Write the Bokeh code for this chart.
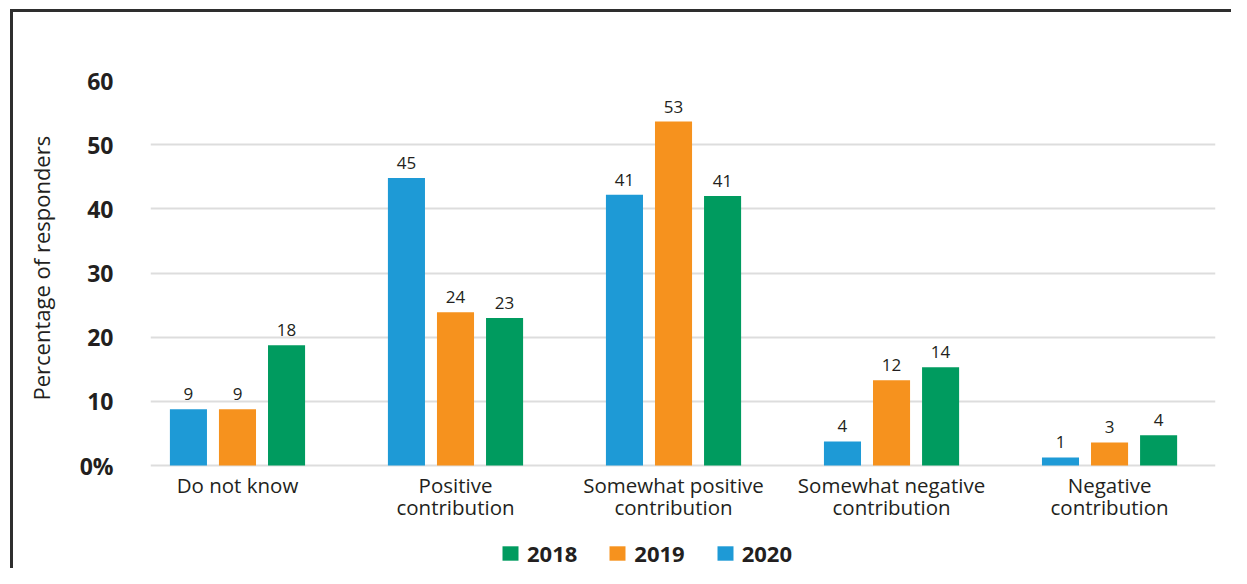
from bokeh.plotting import figure
from bokeh.models import ColumnDataSource, Range1d, FixedTicker, Legend, LegendItem, Title
from bokeh.transform import dodge
from bokeh.core.properties import value
from bokeh.embed import file_html
from bokeh.resources import INLINE

# ---- data ----
categories = ["Do not know", "Positive\ncontribution", "Somewhat positive\ncontribution",
              "Somewhat negative\ncontribution", "Negative\ncontribution"]
years = ["2018", "2019", "2020"]
v2020 = [8.75, 44.8, 42.2, 3.75, 1.25]
v2019 = [8.75, 23.9, 53.6, 13.3, 3.6]
v2018 = [18.75, 23.0, 42.0, 15.3, 4.7]
lab2020 = ["9", "45", "41", "4", "1"]
lab2019 = ["9", "24", "53", "12", "3"]
lab2018 = ["18", "23", "41", "14", "4"]
y_ticks = [0, 10, 20, 30, 40, 50, 60]
y_tick_labels = ["0%", "10", "20", "30", "40", "50", "60"]
y_title = "Percentage of responders"

colors = {"2018": "#009b5f", "2019": "#f6921e", "2020": "#1e9ad6"}
TXT = "#231f20"
FONT = "Open Sans"

idx = list(range(len(categories)))
src = ColumnDataSource(dict(x=idx, cat=categories, v2018=v2018, v2019=v2019, v2020=v2020,
                            l2018=lab2018, l2019=lab2019, l2020=lab2020))

# layout (pixels)
W, H = 1231, 568
LEFT, RIGHT, TOP = 150, 16, 80
ZERO_PX = 465                      # pixel row of the 0 line
px_per_unit = (ZERO_PX - TOP) / 60.0
y_start = -(H - ZERO_PX) / px_per_unit

p = figure(width=W, height=H, output_backend="svg", toolbar_location=None,
           x_range=Range1d(-0.399, 4.486), y_range=Range1d(y_start, 60),
           x_axis_location=None,
           min_border_left=LEFT, min_border_right=RIGHT, min_border_top=TOP, min_border_bottom=0)
p.outline_line_color = None
p.border_fill_color = None
p.styles = {
    "background": ("linear-gradient(#2e2e2e,#2e2e2e) 10px 9px / 1221px 3px no-repeat, "
                   "linear-gradient(#2e2e2e,#2e2e2e) 10px 9px / 3px 559px no-repeat")
}

offsets = {"2020": -0.225, "2019": 0.0, "2018": 0.225}
renderers = {}
for yr in ["2020", "2019", "2018"]:
    r = p.vbar(x=dodge("x", offsets[yr], range=p.x_range), top="v" + yr, bottom=0, width=0.17,
               source=src, fill_color=colors[yr], line_color=None)
    renderers[yr] = r
    p.text(x=dodge("x", offsets[yr], range=p.x_range), y="v" + yr, text="l" + yr, source=src,
           text_align="center", text_baseline="bottom", y_offset=-9,
           text_font=value(FONT), text_font_size="17px", text_color=TXT)

# category labels under the groups
p.text(x="x", y=0, text="cat", source=src, text_align="center", text_baseline="top",
       y_offset=5, text_line_height=0.82,
       text_font=value(FONT), text_font_size="20.5px", text_color=TXT)

# y axis
p.yaxis.ticker = FixedTicker(ticks=y_ticks)
p.yaxis.major_label_overrides = {t: l for t, l in zip(y_ticks, y_tick_labels)}
p.yaxis.major_label_text_font = FONT
p.yaxis.major_label_text_font_size = "23px"
p.yaxis.major_label_text_font_style = "bold"
p.yaxis.major_label_text_color = TXT
p.yaxis.major_label_standoff = 31
p.yaxis.axis_line_color = None
p.yaxis.major_tick_line_color = None
p.yaxis.minor_tick_line_color = None

# y axis title, placed along the 0-60 part of the axis
ytitle = Title(text=y_title, align="left", vertical_align="middle", offset=168, standoff=40,
               text_font=FONT, text_font_size="22px", text_font_style="normal", text_color=TXT)
p.add_layout(ytitle, "left")

p.xgrid.grid_line_color = None
p.ygrid.ticker = FixedTicker(ticks=y_ticks)
p.ygrid.grid_line_color = "#dddddd"
p.ygrid.grid_line_width = 2

legend = Legend(items=[LegendItem(label=yr, renderers=[renderers[yr]]) for yr in years],
                orientation="horizontal", location=(350, 0),
                glyph_width=20, glyph_height=18, label_height=18, label_width=50,
                label_standoff=7, spacing=30,
                padding=0, margin=0, border_line_color=None, background_fill_alpha=0,
                label_text_font=FONT, label_text_font_size="22px", label_text_font_style="bold",
                label_text_color=TXT)
p.add_layout(legend, "center")

open("out.html", "w").write(file_html(p, INLINE))
